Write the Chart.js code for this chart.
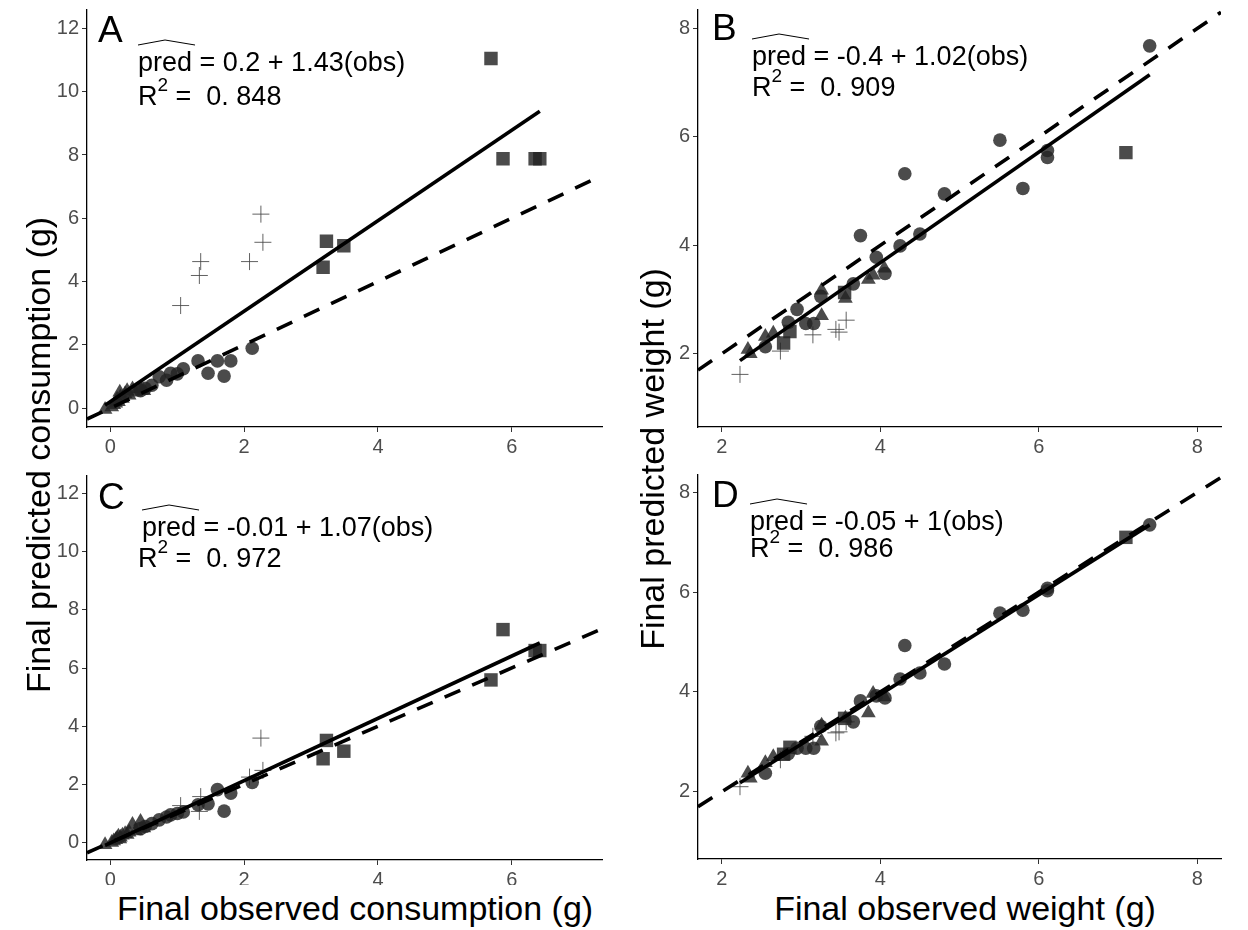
<!DOCTYPE html>
<html>
<head>
<meta charset="utf-8">
<script src="https://cdn.jsdelivr.net/npm/chart.js@4.4.0/dist/chart.umd.min.js"></script>
<style>
body { margin: 0; background: #fff; width: 1248px; height: 930px; position: relative; overflow: hidden;
       font-family: "Liberation Sans", Arial, sans-serif; }
canvas { position: absolute; }
.ttl { position: absolute; font-size: 34px; color: #000; white-space: nowrap; text-align: center;
       width: 560px; height: 40px; line-height: 40px; }
</style>
</head>
<body>
<canvas id="chartA" width="572" height="460" style="left:40px;top:0px"></canvas>
<canvas id="chartB" width="580" height="460" style="left:655px;top:0px"></canvas>
<canvas id="chartC" width="572" height="425" style="left:40px;top:460px"></canvas>
<canvas id="chartD" width="580" height="425" style="left:655px;top:460px"></canvas>

<div class="ttl" style="left:-242px;top:435px;transform:rotate(-90deg)">Final predicted consumption (g)</div>
<div class="ttl" style="left:372px;top:439px;transform:rotate(-90deg)">Final predicted weight (g)</div>
<div class="ttl" style="left:75px;top:888px">Final observed consumption (g)</div>
<div class="ttl" style="left:685px;top:888px">Final observed weight (g)</div>

<script>
// ---- consumption (panels A and C share the observed values) ----
var consTriObs    = [-0.08, 0.02, 0.05, 0.08, 0.10, 0.12, 0.15, 0.18, 0.22, 0.28, 0.33, 0.38, 0.45, 0.50, 0.14, 0.25];
var consTriPredA  = [-0.05, 0.03, 0.10, 0.15, 0.28, 0.20, 0.35, 0.30, 0.45, 0.40, 0.60, 0.50, 0.62, 0.55, 0.50, 0.55];
var consTriPredC  = [-0.08, 0.00, 0.05, 0.10, 0.15, 0.22, 0.18, 0.25, 0.30, 0.35, 0.62, 0.40, 0.72, 0.50, 0.12, 0.28];

var consCircObs   = [2.12, 1.80, 1.60, 1.70, 1.46, 1.31, 1.09, 1.00, 0.90, 0.84, 0.73, 0.62, 0.52, 0.45];
var consCircPredA = [1.89, 1.49, 1.49, 1.01, 1.10, 1.49, 1.24, 1.08, 1.10, 0.88, 0.99, 0.72, 0.62, 0.55];
var consCircPredC = [2.07, 1.70, 1.82, 1.08, 1.33, 1.30, 1.05, 1.00, 0.95, 0.88, 0.78, 0.65, 0.55, 0.48];

var consSqObs     = [5.69, 5.87, 6.35, 6.42, 3.23, 3.49, 3.18];
var consSqPredA   = [11.05, 7.88, 7.88, 7.88, 5.27, 5.13, 4.45];
var consSqPredC   = [5.59, 7.32, 6.60, 6.60, 3.51, 3.14, 2.88];

var consCrossObs   = [2.25, 2.28, 2.08, 1.35, 1.33, 1.05];
var consCrossPredA = [6.13, 5.24, 4.63, 4.63, 4.19, 3.24];
var consCrossPredC = [3.59, 2.48, 2.25, 1.58, 1.07, 1.27];

// ---- weight (panels B and D share the observed values) ----
var wCircObs   = [7.40, 5.51, 6.11, 6.11, 5.80, 4.31, 4.81, 4.50, 4.25, 3.75, 3.95, 4.06, 3.66, 3.25, 2.95, 2.84, 3.06, 3.16, 2.55];
var wCircPredB = [7.68, 5.94, 5.75, 5.62, 5.05, 5.32, 4.95, 4.21, 3.99, 4.18, 3.78, 3.48, 3.29, 3.06, 2.82, 2.58, 2.56, 2.56, 2.13];
var wCircPredD = [7.35, 5.58, 6.08, 6.03, 5.64, 4.93, 4.56, 4.38, 4.26, 3.82, 3.92, 3.88, 3.40, 3.31, 2.87, 2.76, 2.87, 2.87, 2.37];

var wSqObs   = [7.10, 3.55, 2.78, 2.86];
var wSqPredB = [5.71, 3.13, 2.20, 2.41];
var wSqPredD = [7.10, 3.47, 2.75, 2.89];

var wTriObs   = [2.33, 2.36, 2.55, 2.65, 3.26, 3.26, 3.56, 3.85, 3.91, 4.05];
var wTriPredB = [2.08, 2.00, 2.32, 2.38, 2.70, 3.17, 3.02, 3.37, 3.45, 3.58];
var wTriPredD = [2.37, 2.27, 2.58, 2.70, 3.01, 3.33, 3.47, 3.58, 3.97, 3.90];

var wCrossObs   = [2.23, 2.74, 3.15, 3.44, 3.48, 3.57];
var wCrossPredB = [1.62, 2.05, 2.35, 2.45, 2.40, 2.62];
var wCrossPredD = [2.10, 2.64, 3.11, 3.18, 3.20, 3.40];

// fitted lines: [intercept, slope] and R squared text
var fitA = [0.2, 1.43],  r2A = '0. 848';
var fitB = [-0.4, 1.02], r2B = '0. 909';
var fitC = [-0.01, 1.07], r2C = '0. 972';
var fitD = [-0.05, 1],   r2D = '0. 986';

// axis limits
var consX = [-0.35, 7.35], consY = [-0.6, 12.6];
var wX = [1.7, 8.3], wY = [0.65, 8.35];
var tickStep = 2;

var FONT = '"Liberation Sans", Arial, sans-serif';
var pointFill = 'rgba(35,35,35,0.82)';

function pts(xs, ys) {
    return xs.map(function (x, i) { return { x: x, y: ys[i] }; });
}

function eqPlugin(p) {
    return {
        id: 'eq' + p.letter,
        afterDraw: function (chart) {
            var ctx = chart.ctx;
            ctx.save();
            ctx.fillStyle = '#000';
            ctx.strokeStyle = '#000';
            ctx.textBaseline = 'alphabetic';
            ctx.textAlign = 'left';
            ctx.font = '37px ' + FONT;
            ctx.fillText(p.letter, p.lx, p.ly);

            ctx.font = '27px ' + FONT;
            ctx.fillText('pred', p.ex, p.ey);
            var w = ctx.measureText('pred').width;
            ctx.beginPath();
            ctx.lineWidth = 1;
            ctx.moveTo(p.ex, p.ey - 26);
            ctx.lineTo(p.ex + w * 0.5, p.ey - 31);
            ctx.lineTo(p.ex + w + 3, p.ey - 26);
            ctx.stroke();
            ctx.fillText(' = ' + p.fit[0] + ' + ' + p.fit[1] + '(obs)', p.ex + w, p.ey);

            ctx.fillText('R', p.rx, p.ry);
            var rw = ctx.measureText('R').width;
            ctx.font = '19px ' + FONT;
            ctx.fillText('2', p.rx + rw, p.ry - 14);
            var sw = ctx.measureText('2').width;
            ctx.font = '27px ' + FONT;
            ctx.fillText(' =  ' + p.r2, p.rx + rw + sw, p.ry);
            ctx.restore();
        }
    };
}

function makePanel(id, cfg) {
    var allObs = cfg.obs.reduce(function (a, b) { return a.concat(b); }, []);
    var lo = Math.min.apply(null, allObs), hi = Math.max.apply(null, allObs);
    var fit = cfg.fit;
    var fitLine = [{ x: lo, y: fit[0] + fit[1] * lo }, { x: hi, y: fit[0] + fit[1] * hi }];
    var oneLine = [{ x: cfg.xr[0], y: cfg.xr[0] }, { x: cfg.xr[1], y: cfg.xr[1] }];

    var tickFont = { size: 20, family: FONT };
    var datasets = [
        { data: fitLine, showLine: true, borderColor: '#000', borderWidth: 3.6, pointRadius: 0, fill: false },
        { data: oneLine, showLine: true, borderColor: '#000', borderWidth: 3.6, borderDash: [17, 13], pointRadius: 0, fill: false },
        { data: pts(cfg.obs[0], cfg.pred[0]), pointStyle: 'circle', pointRadius: 6.8, backgroundColor: pointFill, borderWidth: 0 },
        { data: pts(cfg.obs[1], cfg.pred[1]), pointStyle: 'triangle', pointRadius: 8.5, backgroundColor: pointFill, borderWidth: 0 },
        { data: pts(cfg.obs[2], cfg.pred[2]), pointStyle: 'rect', pointRadius: 9.5, backgroundColor: pointFill, borderWidth: 0 },
        { data: pts(cfg.obs[3], cfg.pred[3]), pointStyle: 'cross', pointRadius: 8.5, borderColor: 'rgba(70,70,70,0.85)', borderWidth: 1 }
    ];

    return new Chart(document.getElementById(id), {
        type: 'scatter',
        data: { datasets: datasets },
        options: {
            responsive: false,
            animation: false,
            layout: { padding: cfg.pad },
            plugins: { legend: { display: false }, tooltip: { enabled: false } },
            scales: {
                x: {
                    type: 'linear', min: cfg.xr[0], max: cfg.xr[1],
                    afterFit: function (s) { s.height = cfg.xh; s.paddingLeft = 0; s.paddingRight = 0; },
                    ticks: { stepSize: tickStep, includeBounds: false, color: '#4d4d4d', font: tickFont, padding: 3, maxRotation: 0 },
                    grid: { drawOnChartArea: false, tickLength: 5, color: '#333', lineWidth: 1 },
                    border: { color: '#000', width: 1.3 }
                },
                y: {
                    type: 'linear', min: cfg.yr[0], max: cfg.yr[1],
                    afterFit: function (s) { s.width = cfg.yw; s.paddingTop = 0; s.paddingBottom = 0; },
                    ticks: { stepSize: tickStep, includeBounds: false, color: '#4d4d4d', font: tickFont, padding: 3 },
                    grid: { drawOnChartArea: false, tickLength: 5, color: '#333', lineWidth: 1 },
                    border: { color: '#000', width: 1.3 }
                }
            }
        },
        plugins: [eqPlugin(cfg.label)]
    });
}

makePanel('chartA', {
    obs: [consCircObs, consTriObs, consSqObs, consCrossObs],
    pred: [consCircPredA, consTriPredA, consSqPredA, consCrossPredA],
    fit: fitA, xr: consX, yr: consY,
    pad: { top: 7, right: 10, left: 0, bottom: 0 }, yw: 47, xh: 33,
    label: { letter: 'A', lx: 58, ly: 42, ex: 98, ey: 71, rx: 98, ry: 105, fit: fitA, r2: r2A }
});
makePanel('chartB', {
    obs: [wCircObs, wTriObs, wSqObs, wCrossObs],
    pred: [wCircPredB, wTriPredB, wSqPredB, wCrossPredB],
    fit: fitB, xr: wX, yr: wY,
    pad: { top: 7, right: 14, left: 0, bottom: 0 }, yw: 43, xh: 33,
    label: { letter: 'B', lx: 57, ly: 40, ex: 97, ey: 65, rx: 97, ry: 96, fit: fitB, r2: r2B }
});
makePanel('chartC', {
    obs: [consCircObs, consTriObs, consSqObs, consCrossObs],
    pred: [consCircPredC, consTriPredC, consSqPredC, consCrossPredC],
    fit: fitC, xr: consX, yr: consY,
    pad: { top: 16, right: 10, left: 0, bottom: 0 }, yw: 47, xh: 25,
    label: { letter: 'C', lx: 58, ly: 49, ex: 102, ey: 76, rx: 98, ry: 107, fit: fitC, r2: r2C }
});
makePanel('chartD', {
    obs: [wCircObs, wTriObs, wSqObs, wCrossObs],
    pred: [wCircPredD, wTriPredD, wSqPredD, wCrossPredD],
    fit: fitD, xr: wX, yr: wY,
    pad: { top: 15, right: 14, left: 0, bottom: 0 }, yw: 43, xh: 26,
    label: { letter: 'D', lx: 57, ly: 47, ex: 95, ey: 70, rx: 95, ry: 97, fit: fitD, r2: r2D }
});
</script>
</body>
</html>
